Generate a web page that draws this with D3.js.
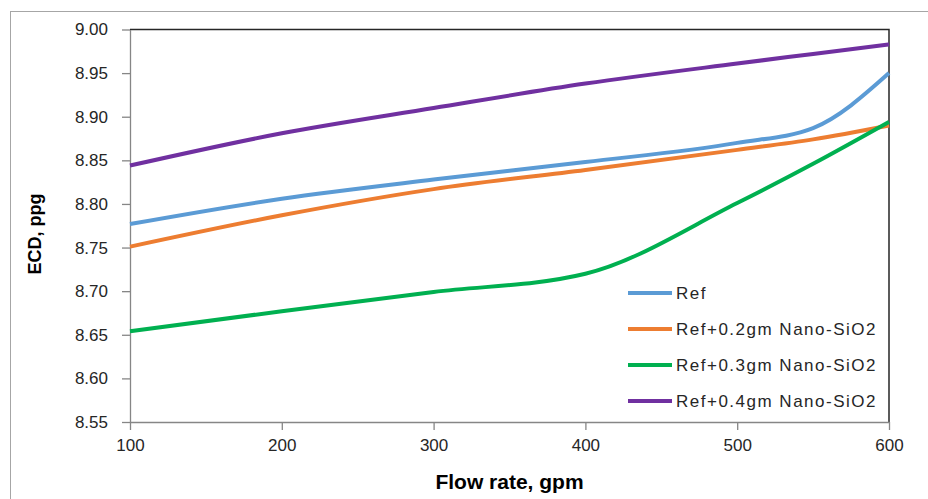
<!DOCTYPE html>
<html>
<head>
<meta charset="utf-8">
<script src="https://cdn.jsdelivr.net/npm/d3@7"></script>
<style>
  body { margin: 0; background: #fff; }
  svg { display: block; }
</style>
</head>
<body>
<div id="chart-container"></div>
<script>
const flowRates = [100, 200, 300, 400, 500, 550, 600];
const seriesNames = ["Ref", "Ref+0.2gm Nano-SiO2", "Ref+0.3gm Nano-SiO2", "Ref+0.4gm Nano-SiO2"];
const refValues = [8.777, 8.806, 8.828, 8.848, 8.870, 8.887, 8.950];
const ref02Values = [8.751, 8.787, 8.817, 8.839, 8.862, 8.874, 8.890];
const ref03Values = [8.654, 8.677, 8.699, 8.720, 8.801, 8.846, 8.894];
const ref04Values = [8.844, 8.881, 8.910, 8.938, 8.961, 8.972, 8.983];
const seriesColors = ["#5B9BD5", "#ED7D31", "#00B050", "#7030A0"];
const yTicks = [8.55, 8.60, 8.65, 8.70, 8.75, 8.80, 8.85, 8.90, 8.95, 9.00];
const xTicks = [100, 200, 300, 400, 500, 600];

const width = 928;
const height = 499;
const margin = { top: 29.5, right: 39, bottom: 77, left: 130 };

const allSeries = [refValues, ref02Values, ref03Values, ref04Values].map((values, i) => ({
    name: seriesNames[i],
    color: seriesColors[i],
    points: values.map((v, j) => ({ x: flowRates[j], y: v }))
}));

const x = d3.scaleLinear()
    .domain([100, 600])
    .range([margin.left, width - margin.right]);

const y = d3.scaleLinear()
    .domain([8.55, 9.00])
    .range([height - margin.bottom, margin.top]);

const svg = d3.select("#chart-container")
    .append("svg")
    .attr("width", width)
    .attr("height", height);

// outer chart border (runs off the picture on right and bottom)
svg.append("rect")
    .attr("x", 10.5)
    .attr("y", 11.5)
    .attr("width", 1000)
    .attr("height", 1000)
    .attr("fill", "#fff")
    .attr("stroke", "#a6a6a6")
    .attr("stroke-width", 1);

// top and right frame of the plot area
svg.append("path")
    .attr("d", `M${x(100)},${y(9.0)}H${x(600)}V${y(8.55)}`)
    .attr("fill", "none")
    .attr("stroke", "#262626")
    .attr("stroke-width", 1.5);

const tickFont = "'Liberation Sans', Arial, sans-serif";

const yAxis = svg.append("g")
    .attr("transform", `translate(${x(100)},0)`)
    .call(d3.axisLeft(y).tickValues(yTicks).tickFormat(d3.format(".2f")).tickSize(8).tickSizeOuter(0).tickPadding(14));

const xAxis = svg.append("g")
    .attr("transform", `translate(0,${y(8.55)})`)
    .call(d3.axisBottom(x).tickValues(xTicks).tickFormat(d3.format("d")).tickSize(8).tickSizeOuter(0).tickPadding(9));

[yAxis, xAxis].forEach(ax => {
    ax.select(".domain").attr("stroke", "#868686").attr("stroke-width", 1.3);
    ax.selectAll(".tick line").attr("stroke", "#868686").attr("stroke-width", 1.3);
    ax.selectAll(".tick text")
        .attr("fill", "#262626")
        .style("font-family", tickFont)
        .style("font-size", "17px");
});

// lines
const line = d3.line()
    .x(d => x(d.x))
    .y(d => y(d.y))
    .curve(d3.curveMonotoneX);

svg.selectAll(".series")
    .data(allSeries)
    .enter()
    .append("path")
    .attr("class", "series")
    .attr("d", d => line(d.points))
    .attr("fill", "none")
    .attr("stroke", d => d.color)
    .attr("stroke-width", 4)
    .attr("stroke-linecap", "butt");

// axis titles
svg.append("text")
    .attr("x", (x(100) + x(600)) / 2)
    .attr("y", 489)
    .attr("text-anchor", "middle")
    .style("font-family", tickFont)
    .style("font-weight", "bold")
    .style("font-size", "21px")
    .attr("fill", "#000")
    .text("Flow rate, gpm");

svg.append("text")
    .attr("transform", "translate(41,234) rotate(-90)")
    .attr("text-anchor", "middle")
    .style("font-family", tickFont)
    .style("font-weight", "bold")
    .style("font-size", "18px")
    .attr("fill", "#000")
    .text("ECD, ppg");

// legend
const legend = svg.selectAll(".legend")
    .data(allSeries)
    .enter()
    .append("g")
    .attr("class", "legend")
    .attr("transform", (d, i) => `translate(628,${293 + i * 36})`);

legend.append("line")
    .attr("x1", 0)
    .attr("x2", 44)
    .attr("stroke", d => d.color)
    .attr("stroke-width", 4);

legend.append("text")
    .attr("x", 48)
    .attr("dy", "0.36em")
    .style("font-family", tickFont)
    .style("font-size", "17px")
    .style("letter-spacing", "1.5px")
    .attr("fill", "#262626")
    .text(d => d.name);
</script>
</body>
</html>
